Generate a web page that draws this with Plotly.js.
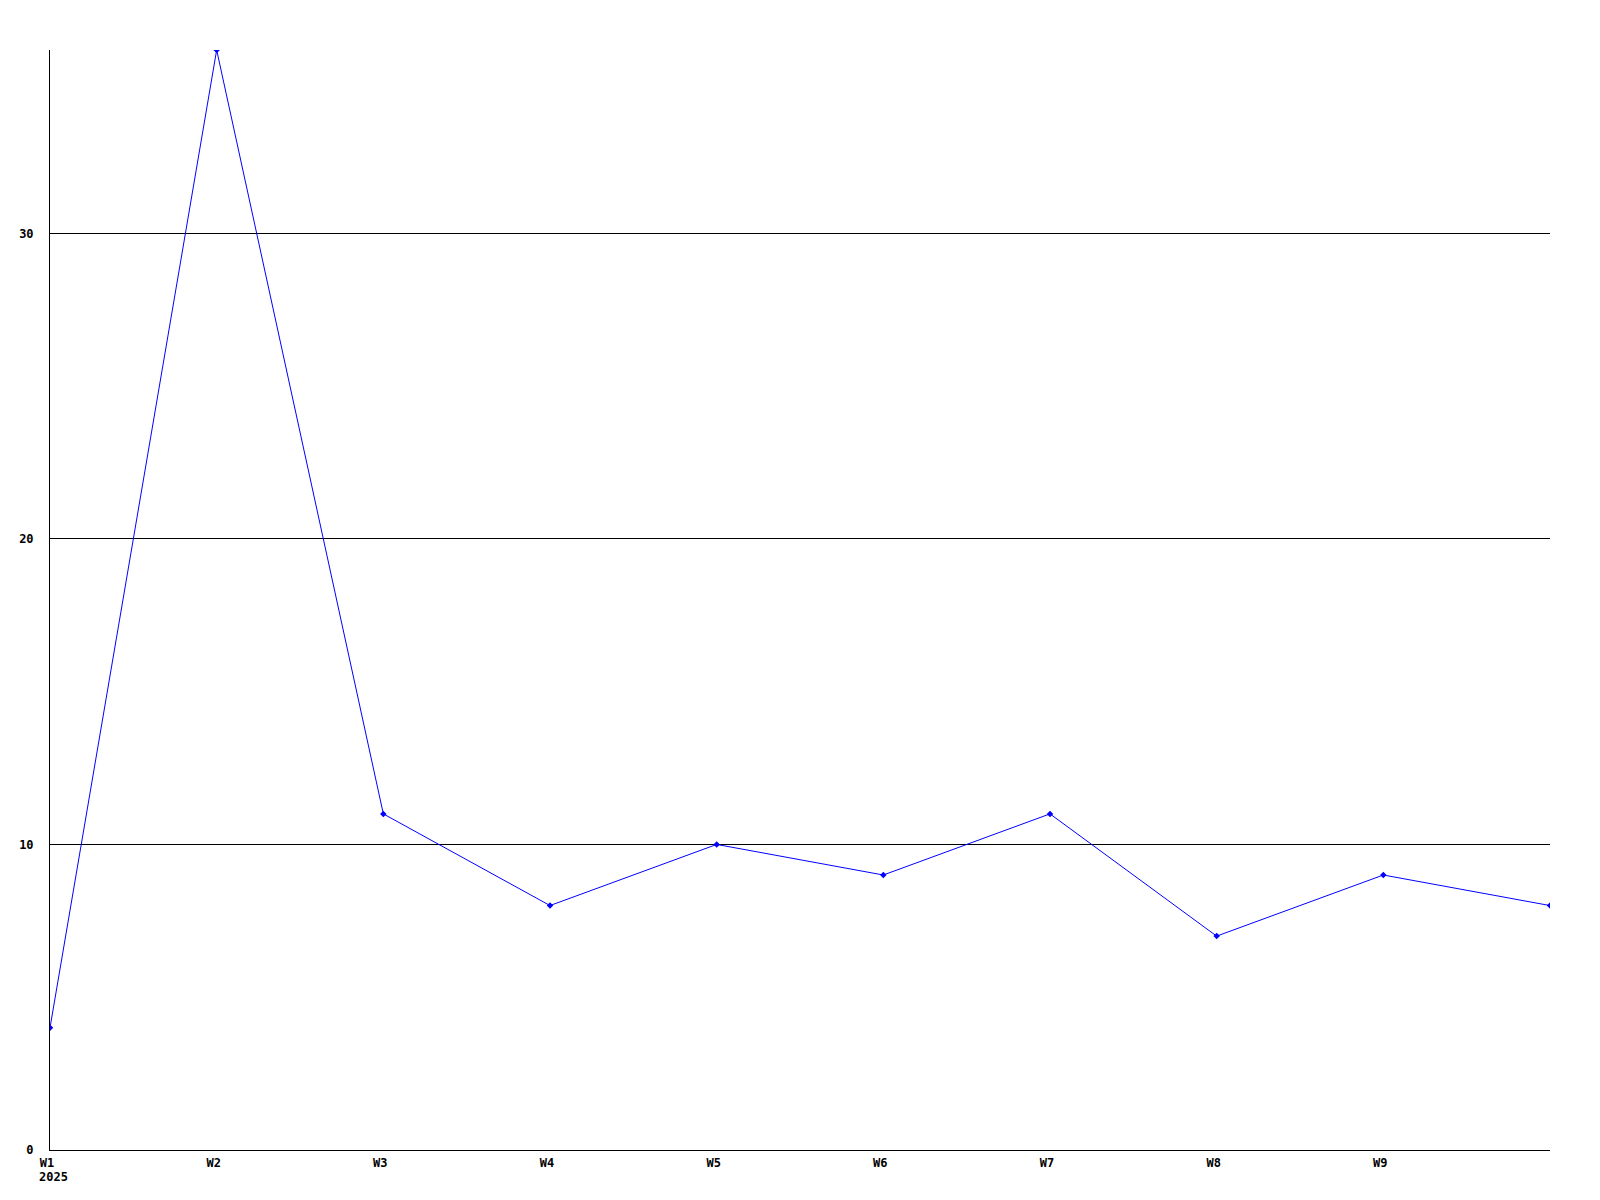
<!DOCTYPE html>
<html>
<head>
<meta charset="utf-8">
<script src="https://cdn.plot.ly/plotly-3.0.1.min.js"></script>
<style>html,body{margin:0;padding:0;background:#fff;}#chart{width:1600px;height:1200px;}</style>
</head>
<body>
<div id="chart"></div>
<script>
const weekIndex = [0, 1, 2, 3, 4, 5, 6, 7, 8, 9];
const counts = [4, 36, 11, 8, 10, 9, 11, 7, 9, 8];
const xTickVals = [0, 1, 2, 3, 4, 5, 6, 7, 8];
const xTickText = ['W1', 'W2', 'W3', 'W4', 'W5', 'W6', 'W7', 'W8', 'W9'];
const yearLabel = '2025';
const yTickVals = [0, 10, 20, 30];

const tickFont = {family: 'DejaVu Sans Mono, monospace', size: 12, color: '#000', weight: 'bold'};

Plotly.newPlot('chart', [{
  x: weekIndex,
  y: counts,
  type: 'scatter',
  mode: 'lines+markers',
  line: {color: '#0000ff', width: 1},
  marker: {color: '#0000ff', size: 5, symbol: 'diamond'},
  hoverinfo: 'x+y'
}], {
  width: 1600,
  height: 1200,
  margin: {l: 50, r: 50, t: 50, b: 50},
  paper_bgcolor: '#fff',
  plot_bgcolor: '#fff',
  showlegend: false,
  font: tickFont,
  xaxis: {
    range: [0, 9],
    tickvals: xTickVals,
    ticktext: xTickText,
    showgrid: false,
    zeroline: false,
    showline: true,
    linecolor: '#000',
    linewidth: 1,
    ticks: '',
    tickfont: tickFont,
    ticklabelstandoff: 2,
    ticklabelshift: -3
  },
  yaxis: {
    range: [0, 36],
    tickvals: yTickVals,
    showgrid: true,
    gridcolor: '#000',
    gridwidth: 1,
    zeroline: false,
    showline: true,
    linecolor: '#000',
    linewidth: 1,
    ticks: '',
    tickfont: tickFont,
    ticklabelstandoff: 13
  },
  annotations: [{
    x: xTickVals[0],
    xref: 'x',
    y: 0,
    yref: 'paper',
    xanchor: 'left',
    yanchor: 'top',
    xshift: -13,
    yshift: -18,
    text: yearLabel,
    showarrow: false,
    font: tickFont
  }]
}, {displayModeBar: false, staticPlot: true});
</script>
</body>
</html>
